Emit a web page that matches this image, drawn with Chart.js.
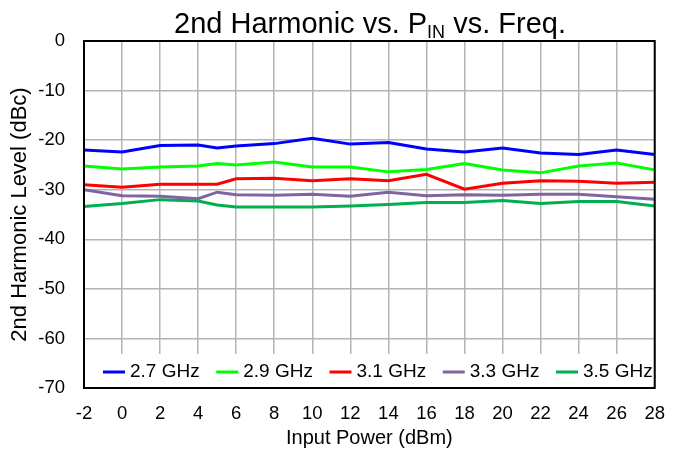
<!DOCTYPE html>
<html lang="en">
<head>
  <meta charset="UTF-8" />
  <title>2nd Harmonic vs. PIN vs. Freq.</title>
  <script src="https://cdn.jsdelivr.net/npm/chart.js"></script>
  <style>
    html, body { margin: 0; padding: 0; background: #fff; }
    canvas { display: block; }
  </style>
</head>
<body>
  <canvas id="chart" width="680" height="453"></canvas>

  <script>
    // input power sweep (dBm); there is an extra point at 5 dBm
    const inputPower = [-2, 0, 2, 4, 5, 6, 8, 10, 12, 14, 16, 18, 20, 22, 24, 26, 28];

    // 2nd harmonic level (dBc) for each frequency
    const h2_27 = [-22.0, -22.4, -21.1, -21.0, -21.6, -21.2, -20.7, -19.6, -20.8, -20.5, -21.8, -22.4, -21.6, -22.6, -22.9, -22.0, -22.9];
    const h2_29 = [-25.2, -25.8, -25.4, -25.2, -24.7, -25.0, -24.4, -25.4, -25.4, -26.4, -25.9, -24.7, -26.0, -26.6, -25.2, -24.6, -26.0];
    const h2_31 = [-29.0, -29.5, -28.9, -28.9, -28.9, -27.8, -27.7, -28.2, -27.8, -28.2, -26.9, -29.9, -28.7, -28.2, -28.3, -28.7, -28.5];
    const h2_33 = [-30.0, -31.2, -31.3, -31.8, -30.5, -31.0, -31.1, -30.9, -31.3, -30.5, -31.2, -31.0, -31.1, -30.9, -30.9, -31.4, -31.9];
    const h2_35 = [-33.4, -32.8, -32.0, -32.3, -33.1, -33.5, -33.5, -33.5, -33.3, -33.0, -32.6, -32.6, -32.2, -32.8, -32.4, -32.4, -33.3];

    const freqLabels = ['2.7 GHz', '2.9 GHz', '3.1 GHz', '3.3 GHz', '3.5 GHz'];
    const seriesColors = ['#0000ff', '#00ff00', '#ff0000', '#8064a2', '#00b050'];
    const seriesData = [h2_27, h2_29, h2_31, h2_33, h2_35];

    const FONT = "'Liberation Sans', Arial, Helvetica, sans-serif";

    const datasets = seriesData.map((vals, i) => ({
      label: freqLabels[i],
      data: vals.map((v, j) => ({ x: inputPower[j], y: v })),
      borderColor: seriesColors[i],
      backgroundColor: seriesColors[i],
      borderWidth: 3,
      pointRadius: 0,
      tension: 0,
      fill: false
    }));

    // title with "IN" as a subscript
    const titlePlugin = {
      id: 'subTitle',
      afterDraw(chart) {
        const ctx = chart.ctx;
        const parts = [
          { t: '2nd Harmonic vs. P', size: 29, dy: 0 },
          { t: 'IN', size: 18, dy: 5 },
          { t: ' vs. Freq.', size: 29, dy: 0 }
        ];
        ctx.save();
        ctx.fillStyle = '#000';
        ctx.textBaseline = 'alphabetic';
        let total = 0;
        parts.forEach(p => { ctx.font = p.size + 'px ' + FONT; p.w = ctx.measureText(p.t).width; total += p.w; });
        let x = 370 - total / 2;
        const base = 33;
        parts.forEach(p => {
          ctx.font = p.size + 'px ' + FONT;
          ctx.fillText(p.t, x, base + p.dy);
          x += p.w;
        });
        ctx.restore();
      }
    };

    // legend box sitting inside the bottom of the plot area, then the frame
    const boxLegend = {
      id: 'boxLegend',
      afterDatasetsDraw(chart) {
        const ctx = chart.ctx;
        const a = chart.chartArea;
        const top = 354;
        ctx.save();
        ctx.fillStyle = '#fff';
        ctx.fillRect(a.left, top, a.right - a.left, a.bottom - top);

        ctx.font = '19px ' + FONT;
        const lineLen = 22, gap = 5, step = 113.25;
        const cy = 372;
        ctx.textBaseline = 'middle';
        chart.data.datasets.forEach((ds, i) => {
          const x = a.left + 19 + i * step;
          ctx.strokeStyle = ds.borderColor;
          ctx.lineWidth = 3;
          ctx.beginPath();
          ctx.moveTo(x, cy);
          ctx.lineTo(x + lineLen, cy);
          ctx.stroke();
          ctx.fillStyle = '#000';
          ctx.fillText(ds.label, x + lineLen + gap, cy);
        });

        // plot frame
        ctx.strokeStyle = '#000';
        ctx.lineWidth = 2;
        ctx.strokeRect(a.left, a.top, a.right - a.left, a.bottom - a.top);
        ctx.restore();
      }
    };

    new Chart(document.getElementById('chart'), {
      type: 'line',
      data: { datasets },
      plugins: [titlePlugin, boxLegend],
      options: {
        responsive: false,
        animation: false,
        devicePixelRatio: 1,
        layout: { padding: { top: 41, right: 13, left: 0, bottom: 0 } },
        plugins: {
          legend: { display: false },
          tooltip: { enabled: false },
          title: { display: false }
        },
        scales: {
          x: {
            type: 'linear',
            min: -2,
            max: 28,
            ticks: { stepSize: 2, color: '#000', font: { family: FONT, size: 18.5 }, padding: 15, maxRotation: 0 },
            grid: { color: '#b4b4b4', lineWidth: 1.5, drawTicks: false },
            border: { display: false },
            title: { display: true, text: 'Input Power (dBm)', color: '#000', font: { family: FONT, size: 20 }, padding: { top: 0, bottom: 3 } },
            afterFit(s) { s.height = 65; }
          },
          y: {
            min: -70,
            max: 0,
            ticks: { stepSize: 10, color: '#000', font: { family: FONT, size: 18.5 }, padding: 19 },
            grid: { color: '#b4b4b4', lineWidth: 1.5, drawTicks: false },
            border: { display: false },
            title: { display: true, text: '2nd Harmonic Level (dBc)', color: '#000', font: { family: FONT, size: 22 }, padding: { top: 7, bottom: 0 } },
            afterFit(s) { s.width = 84; }
          }
        }
      }
    });
  </script>
</body>
</html>
